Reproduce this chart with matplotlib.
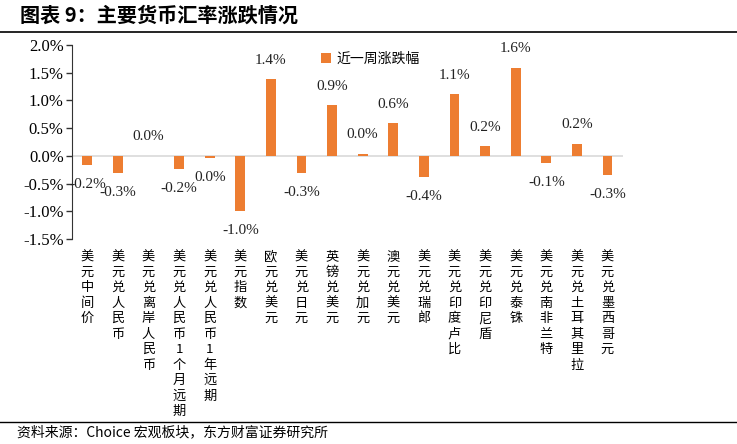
import numpy as np
import matplotlib.pyplot as plt
from matplotlib.ticker import FuncFormatter

plt.rcParams['font.family'] = ['Noto Sans CJK SC', 'DejaVu Sans']

categories = ['美元中间价', '美元兑人民币', '美元兑离岸人民币', '美元兑人民币1个月远期',
              '美元兑人民币1年远期', '美元指数', '欧元兑美元', '美元兑日元', '英镑兑美元',
              '美元兑加元', '澳元兑美元', '美元兑瑞郎', '美元兑印度卢比', '美元兑印尼盾',
              '美元兑泰铢', '美元兑南非兰特', '美元兑土耳其里拉', '美元兑墨西哥元']
week_change = [-0.16, -0.31, 0.004, -0.23, -0.035, -0.99, 1.38, -0.31, 0.91,
               0.04, 0.585, -0.39, 1.11, 0.17, 1.59, -0.13, 0.22, -0.34]
series_name = '近一周涨跌幅'
title = '图表 9：主要货币汇率涨跌情况'
source = '资料来源：Choice 宏观板块，东方财富证券研究所'

orange = '#ED7D31'
serif = 'Liberation Serif'


def pct(v):
    s = f'{v:.1f}'
    if s == '-0.0':
        s = '0.0'
    return s + '%'


fig = plt.figure(figsize=(7.37, 4.44), dpi=100)
ax = fig.add_axes([0.0977, 0.4617, 0.7473, 0.4369])

x = np.arange(len(categories))
ax.bar(x, week_change, width=0.32, color=orange, label=series_name, zorder=3)

ax.set_xlim(-0.5, len(categories) - 0.5)
ax.set_ylim(-1.5, 2.0)
ax.set_yticks(np.arange(-1.5, 2.01, 0.5))
ax.yaxis.set_major_formatter(FuncFormatter(lambda v, p: pct(v)))
for lab in ax.get_yticklabels():
    lab.set_fontfamily(serif)
    lab.set_fontsize(12)
ax.tick_params(axis='y', direction='out', length=4, width=1, color='#333333', pad=2)

ax.axhline(0, color='#D9D9D9', lw=1.2, zorder=2)
for s in ['top', 'right', 'bottom']:
    ax.spines[s].set_visible(False)
ax.spines['left'].set_color('#333333')

ax.set_xticks(x)
ax.set_xticklabels(['\n'.join(c) for c in categories], fontsize=9.5,
                   va='top', linespacing=1.25)
ax.tick_params(axis='x', length=0, pad=8)

# data labels, outside end
for xi, v in zip(x, week_change):
    off = 13.5 if v >= 0 else -14
    ax.annotate(pct(v), (xi, v), xytext=(0, off), textcoords='offset points',
                ha='center', va='center', fontsize=11, fontfamily=serif,
                color='#222222')

ax.legend(loc='upper left', bbox_to_anchor=(0.43, 1.03), frameon=False,
          fontsize=10, handlelength=0.7, handleheight=0.7, handletextpad=0.4)

fig.text(0.027, 0.966, title, fontsize=14.5, fontweight='bold', va='center')
fig.add_artist(plt.Line2D([0, 1], [0.928, 0.928], color='black', lw=1.2))
fig.add_artist(plt.Line2D([0, 1], [0.049, 0.049], color='black', lw=1.0))
fig.text(0.023, 0.026, source, fontsize=10, va='center')

fig.savefig('out.png', dpi=100)
